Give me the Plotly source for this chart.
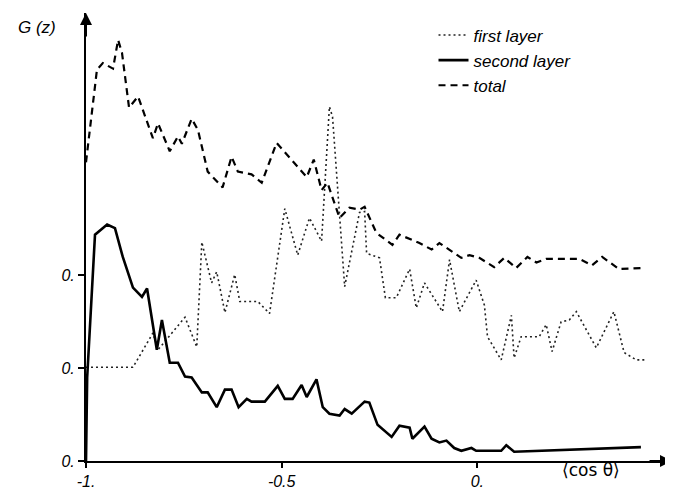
import plotly.graph_objects as go

# ---- data ----
first_x = [-1.0, -0.880, -0.829, -0.816, -0.747, -0.717, -0.704, -0.679, -0.666, -0.645,
           -0.620, -0.607, -0.561, -0.531, -0.492, -0.459, -0.429, -0.398, -0.378, -0.370,
           -0.339, -0.301, -0.288, -0.283, -0.250, -0.235, -0.207, -0.173, -0.156, -0.135,
           -0.089, -0.071, -0.046, -0.003, 0.018, 0.026, 0.061, 0.087, 0.094, 0.112,
           0.158, 0.176, 0.191, 0.214, 0.235, 0.253, 0.304, 0.349, 0.375, 0.406, 0.431]
first_y = [1.01, 1.01, 1.38, 1.20, 1.55, 1.23, 2.36, 1.92, 2.04, 1.60,
           2.01, 1.72, 1.72, 1.59, 2.72, 2.22, 2.62, 2.37, 3.82, 3.71,
           1.88, 2.68, 2.69, 2.24, 2.19, 1.76, 1.76, 2.07, 1.65, 1.92,
           1.61, 2.17, 1.61, 1.95, 1.68, 1.34, 1.09, 1.57, 1.11, 1.34,
           1.34, 1.47, 1.18, 1.50, 1.52, 1.61, 1.22, 1.61, 1.17, 1.09, 1.09]

second_x = [-1.0, -0.997, -0.977, -0.946, -0.926, -0.906, -0.880, -0.857, -0.844, -0.819,
            -0.806, -0.786, -0.765, -0.747, -0.730, -0.704, -0.689, -0.666, -0.645, -0.628,
            -0.610, -0.589, -0.577, -0.543, -0.510, -0.492, -0.472, -0.449, -0.436, -0.411,
            -0.395, -0.378, -0.352, -0.339, -0.321, -0.288, -0.276, -0.255, -0.219, -0.199,
            -0.173, -0.166, -0.135, -0.117, -0.097, -0.079, -0.059, -0.041, -0.015, -0.003,
            0.023, 0.061, 0.074, 0.094, 0.418]
second_y = [0.0, 0.90, 2.44, 2.55, 2.51, 2.20, 1.87, 1.77, 1.86, 1.20,
            1.52, 1.06, 1.06, 0.91, 0.90, 0.74, 0.74, 0.58, 0.77, 0.77,
            0.58, 0.67, 0.64, 0.64, 0.81, 0.67, 0.67, 0.82, 0.69, 0.88,
            0.58, 0.51, 0.49, 0.56, 0.51, 0.64, 0.63, 0.39, 0.26, 0.38,
            0.36, 0.24, 0.37, 0.24, 0.20, 0.22, 0.14, 0.11, 0.14, 0.11,
            0.11, 0.11, 0.17, 0.10, 0.15]

total_x = [-1.0, -0.972, -0.957, -0.931, -0.918, -0.908, -0.890, -0.867, -0.829, -0.816,
           -0.786, -0.765, -0.755, -0.730, -0.714, -0.689, -0.651, -0.628, -0.612, -0.577,
           -0.551, -0.513, -0.459, -0.436, -0.418, -0.398, -0.383, -0.352, -0.327, -0.301,
           -0.288, -0.258, -0.217, -0.199, -0.148, -0.117, -0.097, -0.071, -0.041, -0.020,
           0.005, 0.043, 0.069, 0.099, 0.128, 0.151, 0.176, 0.260, 0.293, 0.319, 0.362, 0.418]
total_y = [3.22, 4.22, 4.29, 4.23, 4.54, 4.40, 3.81, 3.93, 3.48, 3.64,
           3.34, 3.50, 3.42, 3.69, 3.57, 3.12, 2.95, 3.28, 3.12, 3.09,
           3.00, 3.43, 3.17, 3.06, 3.25, 2.92, 3.00, 2.62, 2.73, 2.71,
           2.74, 2.46, 2.33, 2.44, 2.35, 2.28, 2.35, 2.28, 2.19, 2.22,
           2.19, 2.09, 2.19, 2.08, 2.20, 2.14, 2.18, 2.18, 2.11, 2.20, 2.07, 2.08]

x_tick_vals = [-1.0, -0.5, 0.0]
x_tick_text = ["-1.", "-0.5", "0."]
y_tick_vals = [0, 1, 2]
y_tick_text = ["0.", "0.", "0."]

FONT = "Liberation Sans"

fig = go.Figure()
fig.add_trace(go.Scatter(x=first_x, y=first_y, mode="lines", name="first layer",
                         line=dict(color="#222", width=1.6, dash="2px,3px")))
fig.add_trace(go.Scatter(x=second_x, y=second_y, mode="lines", name="second layer",
                         line=dict(color="black", width=2.6)))
fig.add_trace(go.Scatter(x=total_x, y=total_y, mode="lines", name="total",
                         line=dict(color="black", width=2.2, dash="7px,5px")))

# the page body adds an 8px offset, so the figure is 8px smaller
fig.update_layout(
    width=665, height=485,
    margin=dict(l=78, r=0, t=5, b=32),
    paper_bgcolor="white", plot_bgcolor="white",
    showlegend=True,
    legend=dict(x=0.592, y=0.99, xanchor="left", yanchor="top",
                font=dict(family=FONT, size=17, color="black", style="italic"),
                itemwidth=30, tracegroupgap=0, bgcolor="rgba(0,0,0,0)"),
    font=dict(family=FONT, color="black"),
)
fig.update_xaxes(range=[-1.0, 0.5], showgrid=False, zeroline=False,
                 showline=True, linecolor="black", linewidth=2,
                 ticks="outside", ticklen=5, tickwidth=2, tickcolor="black",
                 tickvals=x_tick_vals, ticktext=x_tick_text,
                 tickfont=dict(family=FONT, size=16, color="black", style="italic"))
fig.update_yaxes(range=[0, 4.83], showgrid=False, zeroline=False,
                 showline=True, linecolor="black", linewidth=2,
                 ticks="outside", ticklen=6, tickwidth=2, tickcolor="black",
                 tickvals=y_tick_vals, ticktext=y_tick_text,
                 tickfont=dict(family=FONT, size=16, color="black", style="italic"))

# axis arrows
fig.add_annotation(x=1.0, y=0, xref="paper", yref="paper", ax=-25, ay=0,
                   showarrow=True, arrowhead=2, arrowsize=1.2, arrowwidth=2,
                   arrowcolor="black", text="")
fig.add_annotation(x=0, y=1.0, xref="paper", yref="paper", ax=0, ay=25,
                   showarrow=True, arrowhead=2, arrowsize=1.2, arrowwidth=2,
                   arrowcolor="black", text="")

# axis titles
fig.add_annotation(x=0.29, y=0, xref="x", yref="paper", yshift=-21,
                   text="⟨cos θ⟩", showarrow=False,
                   font=dict(family="DejaVu Sans", size=17, color="black"))
fig.add_annotation(x=-0.083, y=1.0, xref="paper", yref="paper", xanchor="center",
                   yanchor="middle", yshift=-14, text="G (z)", showarrow=False,
                   font=dict(family=FONT, size=17, color="black", style="italic"))

fig.write_html("out.html")
